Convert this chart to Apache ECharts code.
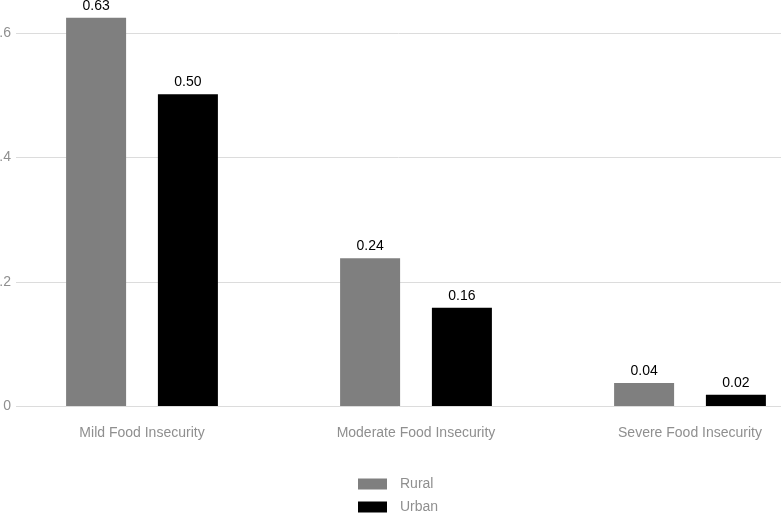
<!DOCTYPE html>
<html>
<head>
<meta charset="utf-8">
<script src="https://cdn.jsdelivr.net/npm/echarts@6.0.0/dist/echarts.min.js"></script>
<style>
  html, body { margin: 0; padding: 0; background: #fff; }
  #chart { width: 781px; height: 515px; }
</style>
</head>
<body>
<div id="chart"></div>
<script>
const categories = ['Mild Food Insecurity', 'Moderate Food Insecurity', 'Severe Food Insecurity']
const rural = [0.625, 0.238, 0.037]
const urban = [0.502, 0.158, 0.018]
const seriesNames = ['Rural', 'Urban']

const font = '"Liberation Sans", Arial, sans-serif'
const grey = '#8f8f8f'

const chart = echarts.init(document.getElementById('chart'))

// gridlines live in their own grid so they can start further right than the bars' band
const gridTop = 33.3
const gridBottom = 109

const valueLabel = {
  show: true,
  position: 'top',
  distance: 5,
  color: '#000',
  fontSize: 14,
  fontFamily: font,
  formatter: (p) => p.value.toFixed(2),
}

// one legend per entry, stacked, since the vertical one wraps at the bottom edge
const legendBase = {
  left: 358,
  padding: 0,
  itemWidth: 29,
  itemHeight: 11,
  icon: 'rect',
  textStyle: { color: grey, fontSize: 14, fontFamily: font, padding: [0, 0, 0, 8] },
}

const option = {
  animation: false,
  backgroundColor: '#fff',
  legend: [
    { ...legendBase, top: 477, data: [seriesNames[0]] },
    { ...legendBase, top: 500, data: [seriesNames[1]] },
  ],
  grid: [
    { left: 16, right: 0, top: gridTop, bottom: gridBottom, outerBoundsMode: 'none', containLabel: false },
    { left: 5, width: 822, top: gridTop, bottom: gridBottom, outerBoundsMode: 'none', containLabel: false },
  ],
  xAxis: [
    { gridIndex: 0, type: 'value', show: false },
    {
      gridIndex: 1,
      type: 'category',
      data: categories,
      axisLine: { show: false },
      axisTick: { show: false },
      axisLabel: { color: grey, fontSize: 14, fontFamily: font, margin: 20 },
    },
  ],
  yAxis: [
    {
      gridIndex: 0,
      type: 'value',
      min: 0,
      max: 0.6,
      interval: 0.2,
      axisLine: { show: false },
      axisTick: { show: false },
      axisLabel: { color: grey, fontSize: 14, fontFamily: font, margin: 5 },
      splitLine: { lineStyle: { color: '#dcdcdc', width: 1 } },
    },
    {
      gridIndex: 1,
      type: 'value',
      min: 0,
      max: 0.6,
      interval: 0.2,
      show: false,
      splitLine: { show: false },
    },
  ],
  series: [
    {
      name: seriesNames[0],
      type: 'bar',
      xAxisIndex: 1,
      yAxisIndex: 1,
      data: rural,
      barWidth: 60,
      barGap: '53%',
      clip: false,
      itemStyle: { color: '#7f7f7f' },
      label: valueLabel,
    },
    {
      name: seriesNames[1],
      type: 'bar',
      xAxisIndex: 1,
      yAxisIndex: 1,
      data: urban,
      barWidth: 60,
      clip: false,
      itemStyle: { color: '#000' },
      label: valueLabel,
    },
  ],
}

chart.setOption(option)
</script>
</body>
</html>
